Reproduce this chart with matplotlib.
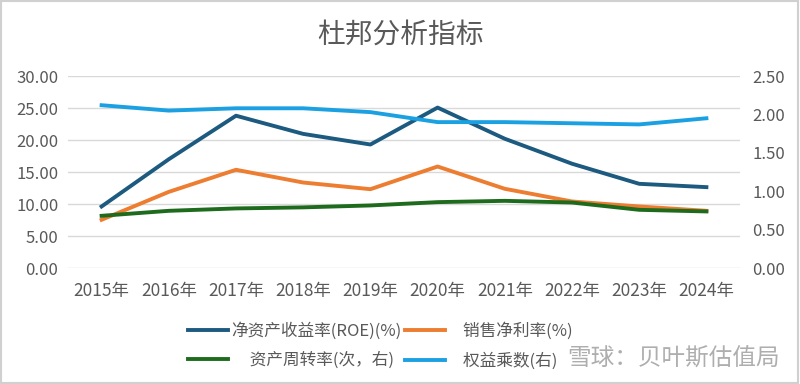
import matplotlib.pyplot as plt
from matplotlib.patches import Rectangle

plt.rcParams['font.family'] = ['Noto Sans CJK SC', 'DejaVu Sans']

# 数据
years = ['2015年', '2016年', '2017年', '2018年', '2019年',
         '2020年', '2021年', '2022年', '2023年', '2024年']
roe = [9.62, 17.0, 23.8, 20.96, 19.3, 25.07, 20.2, 16.3, 13.16, 12.64]
net_margin = [7.54, 11.9, 15.35, 13.36, 12.32, 15.86, 12.38, 10.4, 9.62, 8.94]
asset_turnover = [0.68, 0.745, 0.776, 0.79, 0.815, 0.858, 0.875, 0.853, 0.758, 0.737]
equity_mult = [2.12, 2.05, 2.08, 2.08, 2.03, 1.90, 1.90, 1.885, 1.87, 1.95]

left_ticks = [0, 5, 10, 15, 20, 25, 30]
right_ticks = [0, 0.5, 1.0, 1.5, 2.0, 2.5]

c_roe = '#1d5a80'
c_margin = '#ed7d31'
c_turn = '#1e6b1e'
c_mult = '#1ba1e2'
grey = '#595959'

fig = plt.figure(figsize=(8, 3.84), dpi=100)
ax = fig.add_axes([0.085, 0.302, 0.84, 0.5])
ax2 = ax.twinx()

x = range(len(years))
l1, = ax.plot(x, roe, color=c_roe, lw=2.8, label='净资产收益率(ROE)(%)', zorder=3)
l2, = ax.plot(x, net_margin, color=c_margin, lw=2.8, label='    销售净利率(%)', zorder=3)
l3, = ax2.plot(x, asset_turnover, color=c_turn, lw=2.8, label='     资产周转率(次，右)')
l4, = ax2.plot(x, equity_mult, color=c_mult, lw=2.8, label='    权益乘数(右)')

ax.set_xlim(-0.5, len(years) - 0.5)
ax.set_ylim(0, 30)
ax2.set_ylim(0, 2.5)
ax.set_yticks(left_ticks)
ax.set_yticklabels([f'{v:.2f}' for v in left_ticks])
ax2.set_yticks(right_ticks)
ax2.set_yticklabels([f'{v:.2f}' for v in right_ticks])
ax.set_xticks(list(x))
ax.set_xticklabels(years)

ax.grid(axis='y', color='#d9d9d9', lw=1)
ax.set_axisbelow(True)
for a in (ax, ax2):
    for s in a.spines.values():
        s.set_visible(False)
    a.tick_params(length=0, labelsize=12, colors=grey)
ax.tick_params(axis='y', pad=7)
ax2.tick_params(axis='y', pad=9)
ax.tick_params(axis='x', pad=10, labelsize=12.5)

fig.text(0.5, 0.909, '杜邦分析指标', ha='center', va='center', fontsize=20, color=grey)

# 图例：按行排列（列优先填充，所以顺序调整）
fig.legend(handles=[l1, l3, l2, l4], loc='center left', bbox_to_anchor=(188 / 800, 0.1),
           ncol=2, frameon=False, fontsize=12, labelcolor=grey,
           handlelength=2.4, handletextpad=0.2, columnspacing=0.2, labelspacing=0.75,
           borderpad=0, borderaxespad=0)

# 水印
fig.text(567 / 800, 0.065, '雪球：贝叶斯估值局', ha='left', va='center', fontsize=17,
         color='#a0a0a0', alpha=0.85)

fig.patches.append(Rectangle((0.001, 0.002), 0.997, 0.995, transform=fig.transFigure,
                             fill=False, edgecolor='#d0d0d0', lw=1.5))

fig.savefig('out.png', dpi=100)
